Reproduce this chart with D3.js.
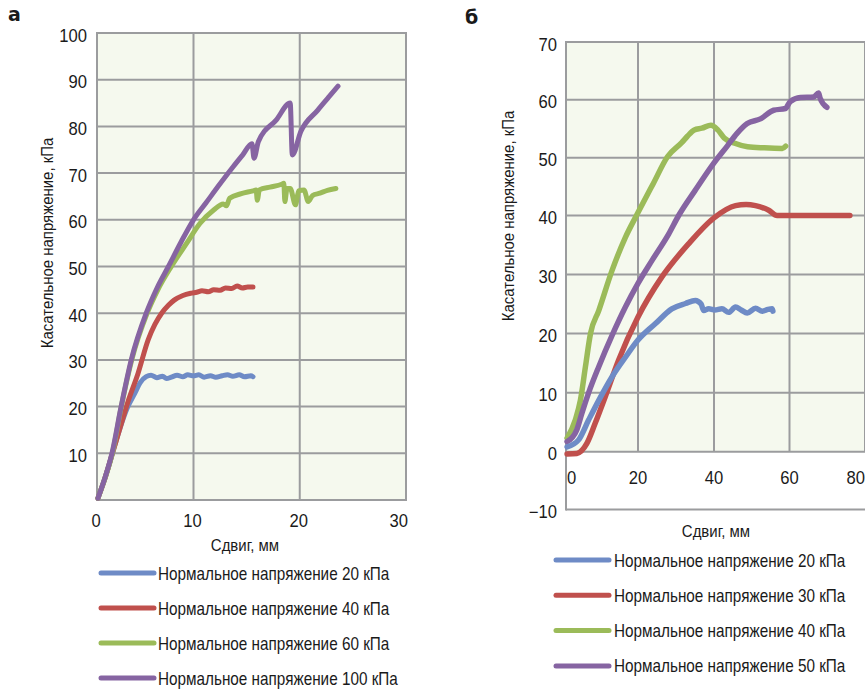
<!DOCTYPE html>
<html>
<head>
<meta charset="utf-8">
<script src="https://cdn.jsdelivr.net/npm/d3@7"></script>
<style>
  html, body { margin: 0; padding: 0; background: #fff; }
  svg { display: block; }
  text { font-family: "Liberation Sans", Arial, sans-serif; fill: #1a1a1a; }
</style>
</head>
<body>
<svg id="chart" width="865" height="691"></svg>
<script>
// ---- Panel а: shear tests at normal stress 20 / 40 / 60 / 100 kPa ----
const seriesNamesA = ["Нормальное напряжение 20 кПа", "Нормальное напряжение 40 кПа",
                      "Нормальное напряжение 60 кПа", "Нормальное напряжение 100 кПа"];
const xTicksA = [0, 10, 20, 30];
const yTicksA = [10, 20, 30, 40, 50, 60, 70, 80, 90, 100];

// [shear displacement mm, shear stress kPa]
const blueA = [[0.1,0.4],[0.8,4.5],[1.6,10],[2.4,15.5],[3.2,20],[3.9,22.8],[4.5,25.2],[5.1,26.4],[5.6,26.7],[6.2,26.2],
  [6.8,26.5],[7.2,26.0],[7.7,26.3],[8.3,26.7],[8.9,26.4],[9.4,26.8],[10.0,26.6],[10.5,26.8],[11.0,26.3],[11.6,26.6],
  [12.1,26.3],[12.7,26.6],[13.2,26.8],[13.7,26.5],[14.3,26.8],[14.8,26.4],[15.4,26.6],[15.6,26.4]];
const redA = [[0.1,0.4],[0.8,4.5],[1.6,10],[2.4,15.5],[3.2,21],[4.25,27.1],[5.3,34.3],[6.0,37.6],[6.7,40],[7.4,41.7],
  [8.0,42.8],[8.9,43.8],[9.8,44.3],[10.3,44.5],[10.8,44.8],[11.4,44.6],[11.9,45.0],[12.5,44.9],[13.0,45.4],
  [13.6,45.3],[14.1,45.8],[14.6,45.4],[15.1,45.6],[15.6,45.6]];
const greenA = [[0.1,0.4],[0.8,4.5],[1.6,10],[2.5,19.8],[3.6,30],[5.2,40],[6.3,45],[7.7,50],[9.3,55],[10.6,59.2],
  [11.9,62.1],[12.8,63.4],[13.1,63.0],[13.4,64.6],[14.5,65.6],[15.6,66.2],[15.9,66.4],[16.0,64.2],[16.2,66.4],
  [17.2,67.0],[18.3,67.6],[18.5,67.8],[18.6,63.9],[18.8,66.7],[19.1,66.7],[19.6,63.2],[19.9,66.2],[20.4,66.4],
  [20.8,63.9],[21.2,65.2],[21.9,65.7],[22.6,66.3],[23.4,66.7]];
const purpleA = [[0.1,0.4],[0.8,4.6],[1.55,10],[2.5,20],[3.55,30],[5.1,40],[6.2,45.3],[7.4,50],[8.7,55.2],[10.0,60],
  [11.2,63.7],[12.5,67.7],[13.75,71.4],[14.6,73.8],[15.5,76.3],[15.7,73.2],[16.1,76.7],[17.8,81.4],[19.1,85],
  [19.3,73.9],[20.1,78.9],[21.7,83.5],[22.7,86.2],[23.6,88.6]];

// ---- Panel б: shear tests at normal stress 20 / 30 / 40 / 50 kPa ----
const seriesNamesB = ["Нормальное напряжение 20 кПа", "Нормальное напряжение 30 кПа",
                      "Нормальное напряжение 40 кПа", "Нормальное напряжение 50 кПа"];
const xTicksB = [0, 20, 40, 60, 80];
const yTicksB = [-10, 0, 10, 20, 30, 40, 50, 60, 70];

const blueB = [[0.3,0.8],[3.5,2],[6.3,5.4],[9.1,8.7],[12.8,12.7],[16.5,16],[20,18.9],[24.6,21.7],[28.9,24.2],
  [32.5,25.1],[35.1,25.6],[36.6,25.0],[37.3,23.9],[38.6,24.2],[40.2,24.0],[42.1,24.2],[43.9,23.6],[45.7,24.5],
  [47.2,24.0],[48.8,23.5],[51,24.3],[52.8,23.8],[54.3,24.1],[55.4,24.2],[55.6,23.8]];
const redB = [[0.3,-0.4],[3,-0.3],[5.8,1.4],[8.1,4.8],[10.9,9.3],[14.6,15.5],[20,22.8],[26.3,29.6],[33.3,35.2],
  [40,39.6],[45.7,41.7],[48.5,41.9],[51,41.7],[54.5,40.9],[56.7,40],[60,40],[70,40],[76,40]];
const greenB = [[0.3,2.3],[2.6,5.4],[4,8.7],[5.4,14.4],[6.8,20],[9.1,23.9],[12.8,30.7],[16.5,36.3],[20,40.5],
  [24,45.5],[27.8,50.2],[31.5,52.6],[33,53.7],[34.8,54.8],[36.8,55.1],[39.2,55.6],[41,54.8],[42.7,53.4],
  [45.5,52.5],[48.9,51.9],[53.3,51.7],[58.1,51.6],[59,52.0]];
const purpleB = [[0.3,1.7],[3,3.7],[4.4,6.5],[6.3,10],[9.1,14.4],[12.8,19.7],[16.5,24.5],[20,28.5],[23.7,32.4],
  [28.1,36.9],[30.7,40],[35,44.3],[40,49.1],[43.5,52.0],[46.1,54.2],[48.8,55.9],[52.3,56.7],[55.8,58.2],
  [58.9,58.5],[60.2,59.7],[62.9,60.4],[66.4,60.5],[67.7,61.2],[68.1,60.3],[69.9,58.7]];

const colors = ["#6e8bc6", "#c0504d", "#9bbb59", "#8664a2"];
const gridColor = "#9b9c9e";
const plotFill = "#f5f9ee";

const svg = d3.select("#chart");
svg.append("rect").attr("width", 865).attr("height", 691).attr("fill", "#fff");

// place a text horizontally condensed by factor sx around its anchor point
function placeText(sel, x, y, sx) {
  return sel.attr("x", 0).attr("y", 0)
    .attr("transform", (d, i) => {
      const px = typeof x === "function" ? x(d, i) : x;
      const py = typeof y === "function" ? y(d, i) : y;
      return `translate(${px},${py}) scale(${sx},1)`;
    });
}

// ================= Panel а =================
const xA = d3.scaleLinear().domain([0, 10, 30]).range([97, 193.5, 406]);
const yA = d3.scaleLinear().domain([0, 100]).range([500, 33]);
const gA = svg.append("g");

gA.append("rect")
  .attr("x", xA(0)).attr("y", yA(100))
  .attr("width", xA(30) - xA(0)).attr("height", yA(0) - yA(100))
  .attr("fill", plotFill);

gA.append("g").selectAll("line").data(yTicksA).join("line")
  .attr("x1", xA(0)).attr("x2", xA(30))
  .attr("y1", d => yA(d)).attr("y2", d => yA(d))
  .attr("stroke", gridColor).attr("stroke-width", 2);
gA.append("g").selectAll("line").data(xTicksA).join("line")
  .attr("x1", d => xA(d)).attr("x2", d => xA(d))
  .attr("y1", yA(0)).attr("y2", yA(100))
  .attr("stroke", gridColor).attr("stroke-width", 2);
gA.append("rect")
  .attr("x", xA(0)).attr("y", yA(100))
  .attr("width", xA(30) - xA(0)).attr("height", yA(0) - yA(100))
  .attr("fill", "none").attr("stroke", gridColor).attr("stroke-width", 2);

placeText(gA.append("g").selectAll("text").data(yTicksA).join("text"), 87, d => yA(d) + 8.5, 0.95)
  .attr("text-anchor", "end").attr("font-size", 17.5).text(d => d);
placeText(gA.append("g").selectAll("text").data(xTicksA).join("text"),
    (d, i) => i === xTicksA.length - 1 ? xA(d) + 2 : xA(d) - 1, 527, 0.95)
  .attr("text-anchor", (d, i) => i === xTicksA.length - 1 ? "end" : "middle")
  .attr("font-size", 17.5).text(d => d);

placeText(gA.append("text"), 245, 551, 0.88).attr("text-anchor", "middle")
  .attr("font-size", 17).text("Сдвиг, мм");
gA.append("text").attr("transform", "translate(53,243) rotate(-90) scale(0.88,1)")
  .attr("text-anchor", "middle").attr("font-size", 17)
  .text("Касательное напряжение, кПа");
gA.append("text").attr("x", 8).attr("y", 21).attr("font-size", 19)
  .attr("font-weight", "bold").style("font-family", "'DejaVu Sans', sans-serif").text("а");

const lineA = d3.line().x(d => xA(d[0])).y(d => yA(d[1])).curve(d3.curveMonotoneX);
[blueA, redA, greenA, purpleA].forEach((s, i) => {
  gA.append("path").datum(s).attr("d", lineA)
    .attr("fill", "none").attr("stroke", colors[i]).attr("stroke-width", 5)
    .attr("stroke-linecap", "round").attr("stroke-linejoin", "round");
});

const legA = gA.append("g").selectAll("g").data(seriesNamesA).join("g")
  .attr("transform", (d, i) => `translate(0,${573 + i * 35})`);
legA.append("line").attr("x1", 101).attr("x2", 154).attr("y1", 0).attr("y2", 0)
  .attr("stroke", (d, i) => colors[i]).attr("stroke-width", 5).attr("stroke-linecap", "round");
placeText(legA.append("text"), 158, 6.5, 0.85).attr("font-size", 18).text(d => d);

// ================= Panel б =================
const xB = d3.scaleLinear().domain([0, 20, 40, 60, 80]).range([566, 638, 714, 789.5, 865]);
const yB = d3.scaleLinear().domain([-10, 0, 40, 70]).range([509.5, 451.7, 215.5, 42]);
const gB = svg.append("g");
const rightB = 875;

gB.append("rect")
  .attr("x", xB(0)).attr("y", yB(70))
  .attr("width", rightB - xB(0)).attr("height", yB(0) - yB(70))
  .attr("fill", plotFill);

gB.append("g").selectAll("line").data(yTicksB).join("line")
  .attr("x1", xB(0)).attr("x2", rightB)
  .attr("y1", d => yB(d)).attr("y2", d => yB(d))
  .attr("stroke", gridColor).attr("stroke-width", 2);
gB.append("g").selectAll("line").data(xTicksB.slice(1)).join("line")
  .attr("x1", d => xB(d)).attr("x2", d => xB(d))
  .attr("y1", yB(0)).attr("y2", yB(70))
  .attr("stroke", gridColor).attr("stroke-width", 2);
gB.append("line")
  .attr("x1", xB(0)).attr("x2", xB(0)).attr("y1", yB(70) - 1).attr("y2", yB(-10) + 1)
  .attr("stroke", gridColor).attr("stroke-width", 2);

placeText(gB.append("g").selectAll("text").data(yTicksB).join("text"), 557, d => yB(d) + 8.5, 0.95)
  .attr("text-anchor", "end").attr("font-size", 17.5)
  .text(d => d < 0 ? "\u2212" + Math.abs(d) : d);
placeText(gB.append("g").selectAll("text").data(xTicksB).join("text"),
    (d, i) => i === 0 ? xB(d) + 1 : (i === xTicksB.length - 1 ? 865 : xB(d)), 483.5, 0.95)
  .attr("text-anchor", (d, i) => i === 0 ? "start" : (i === xTicksB.length - 1 ? "end" : "middle"))
  .attr("font-size", 17.5).text(d => d);

placeText(gB.append("text"), 716, 537, 0.88).attr("text-anchor", "middle")
  .attr("font-size", 17).text("Сдвиг, мм");
gB.append("text").attr("transform", "translate(514,216) rotate(-90) scale(0.88,1)")
  .attr("text-anchor", "middle").attr("font-size", 17)
  .text("Касательное напряжение, кПа");
gB.append("text").attr("x", 465).attr("y", 24).attr("font-size", 19)
  .attr("font-weight", "bold").style("font-family", "'DejaVu Sans', sans-serif").text("б");

const lineB = d3.line().x(d => xB(d[0])).y(d => yB(d[1])).curve(d3.curveMonotoneX);
const seriesB = [blueB, redB, greenB, purpleB];
[1, 2, 3, 0].forEach(i => {
  gB.append("path").datum(seriesB[i]).attr("d", lineB)
    .attr("fill", "none").attr("stroke", colors[i]).attr("stroke-width", 5.5)
    .attr("stroke-linecap", "round").attr("stroke-linejoin", "round");
});

const legB = gB.append("g").selectAll("g").data(seriesNamesB).join("g")
  .attr("transform", (d, i) => `translate(0,${560 + i * 35.3})`);
legB.append("line").attr("x1", 556).attr("x2", 609).attr("y1", 0).attr("y2", 0)
  .attr("stroke", (d, i) => colors[i]).attr("stroke-width", 5).attr("stroke-linecap", "round");
placeText(legB.append("text"), 614, 6.5, 0.85).attr("font-size", 18).text(d => d);
</script>
</body>
</html>
